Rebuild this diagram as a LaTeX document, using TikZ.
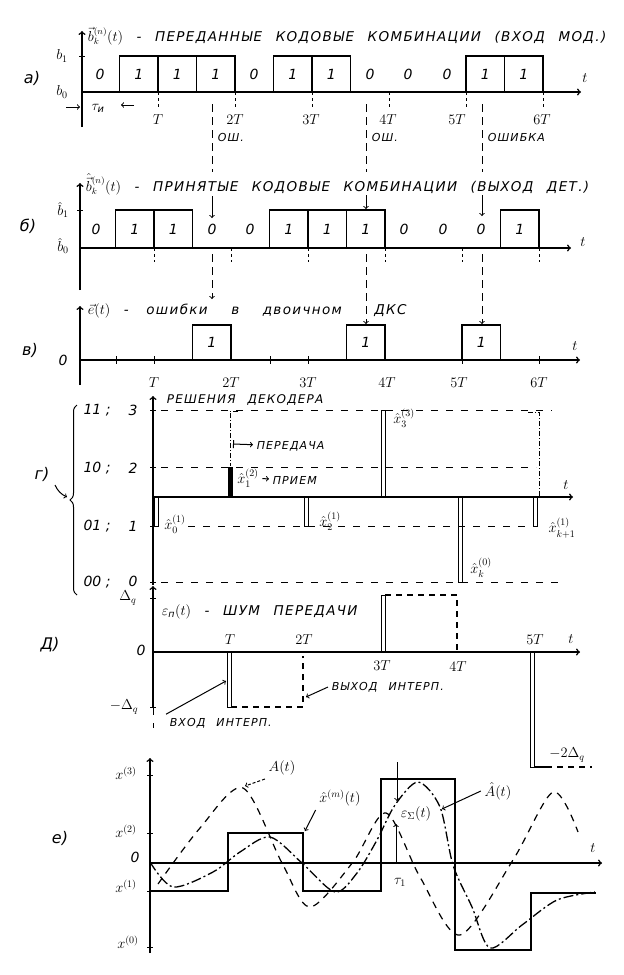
\documentclass[tikz,border=0pt]{standalone}
\usepackage{amsmath}
\usepackage{fontspec}
\setmainfont{DejaVu Sans}
\newfontfamily\spaced{DejaVu Sans}[LetterSpace=10,WordSpace=2.4]
\usetikzlibrary{decorations.pathreplacing}
\begin{document}
\begin{tikzpicture}[x=1pt,y=-1pt,line width=1pt,
    font=\itshape\fontsize{14}{16}\selectfont,
    ax/.style={->,line width=1.5pt},
    pulse/.style={line width=1.3pt},
    bar/.style={line width=1pt},
    tk/.style={dash pattern=on 3pt off 3pt,line width=0.9pt},
    err/.style={dash pattern=on 8pt off 5pt,line width=1pt},
    lvl/.style={dash pattern=on 7pt off 8pt,line width=0.9pt},
    hold/.style={dash pattern=on 6pt off 5pt,line width=1.3pt},
    dd/.style={dash pattern=on 5pt off 2pt on 1pt off 2pt,line width=0.8pt},
    sig/.style={dash pattern=on 7pt off 6pt,line width=1.2pt},
    est/.style={dash pattern=on 10pt off 3pt on 2pt off 3pt,line width=1.3pt},
    ttl/.style={anchor=west,font=\spaced\itshape\fontsize{13.5}{15}\selectfont},
    sm/.style={font=\spaced\itshape\fontsize{11}{13}\selectfont},
    pl/.style={font=\itshape\fontsize{16}{18}\selectfont}]
  \useasboundingbox (0,0) rectangle (624,975);

  \node[pl] (pa) at (32,78) {а)};
  \node[ttl] (titlea) at (84,36) {$\vec{b}_k^{(n)}(t)$ - ПЕРЕДАННЫЕ КОДОВЫЕ КОМБИНАЦИИ (ВХОД МОД.)};
  \draw[ax] (82,127) -- (82,31);
  \draw[ax] (82,92) -- (581,92);
  \node (ta) at (585,78) {$t$};
  \node (b1) at (62,56) {$b_1$};
  \node (b0) at (62,92) {$b_0$};
  \draw (79,56) -- (85,56);
  \node (a0) at (100,74) {0};
  \draw[pulse] (119.5,56) rectangle (158,92) node[midway] (a1) {1};
  \draw[pulse] (158,56) rectangle (196.5,92) node[midway] (a2) {1};
  \draw[pulse] (196.5,56) rectangle (235,92) node[midway] (a3) {1};
  \node (a4) at (254,74) {0};
  \draw[pulse] (273.5,56) rectangle (312,92) node[midway] (a5) {1};
  \draw[pulse] (312,56) rectangle (350.5,92) node[midway] (a6) {1};
  \node (a7) at (370,74) {0};
  \node (a8) at (408,74) {0};
  \node (a9) at (447,74) {0};
  \draw[pulse] (466,56) rectangle (504.5,92) node[midway] (a10) {1};
  \draw[pulse] (504.5,56) rectangle (543,92) node[midway] (a11) {1};
  \draw[tk] (158,92) -- (158,108);
  \draw[tk] (235,92) -- (235,108);
  \draw[tk] (312,92) -- (312,108);
  \draw[tk] (389,92) -- (389,108);
  \draw[tk] (466,92) -- (466,108);
  \draw[tk] (543,92) -- (543,108);
  \node (aT1) at (158,120) {$T$};
  \node (aT2) at (235,120) {$2T$};
  \node (aT3) at (311,120) {$3T$};
  \node (aT4) at (388,120) {$4T$};
  \node (aT5) at (457,120) {$5T$};
  \node (aT6) at (542,120) {$6T$};
  \node (tau) at (98,108) {$\tau_{\text{и}}$};
  \draw[->] (66,107) -- (80,107);
  \draw[->] (134,105) -- (121,105);
  \draw[err] (212,104) -- (212,172);
  \draw[err] (366,104) -- (366,172);
  \draw[err] (482,104) -- (482,172);
  \node[sm,anchor=west] (osh1) at (214,137) {ОШ.};
  \node[sm,anchor=west] (osh2) at (368,137) {ОШ.};
  \node[sm,anchor=west] (osh3) at (484,137) {ОШИБКА};

  \node[pl] (pb) at (28,226) {б)};
  \node[ttl] (titleb) at (82,184) {$\hat{\vec{b}}_k^{(n)}(t)$ - ПРИНЯТЫЕ КОДОВЫЕ КОМБИНАЦИИ (ВЫХОД ДЕТ.)};
  \draw[ax] (80,290) -- (80,183);
  \draw[ax] (80,248) -- (571,248);
  \node (tb) at (583,242) {$t$};
  \node (bh1) at (63,210) {$\hat{b}_1$};
  \node (bh0) at (63,246) {$\hat{b}_0$};
  \draw (77,210) -- (83,210);
  \node (r0) at (96,229) {0};
  \draw[pulse] (115.5,210) rectangle (154,248) node[midway] (r1) {1};
  \draw[pulse] (154,210) rectangle (192.5,248) node[midway] (r2) {1};
  \node (r3) at (212,229) {0};
  \node (r4) at (250,229) {0};
  \draw[pulse] (269.5,210) rectangle (308,248) node[midway] (r5) {1};
  \draw[pulse] (308,210) rectangle (346.5,248) node[midway] (r6) {1};
  \draw[pulse] (346.5,210) rectangle (385,248) node[midway] (r7) {1};
  \node (r8) at (404,229) {0};
  \node (r9) at (443,229) {0};
  \node (r10) at (481,229) {0};
  \draw[pulse] (500.5,210) rectangle (539,248) node[midway] (r11) {1};
  \draw[tk] (154,248) -- (154,262);
  \draw[tk] (231,248) -- (231,262);
  \draw[tk] (308,248) -- (308,262);
  \draw[tk] (385,248) -- (385,262);
  \draw[tk] (462,248) -- (462,262);
  \draw[tk] (539,248) -- (539,262);
  \draw[->] (212,196) -- (212,218);
  \draw[->] (366,195) -- (366,209);
  \draw[->] (482,195) -- (482,216);
  \draw[err,->] (212,254) -- (212,299);
  \draw[err,->] (366,254) -- (366,324);
  \draw[err,->] (482,254) -- (482,324);

  \node[pl] (pc) at (30,350) {в)};
  \node[ttl] (titlec) at (84,311) {$\vec{e}(t)$ -\hspace{4pt} ошибки\hspace{10pt} в\hspace{10pt} двоичном\hspace{19pt} ДКС};
  \draw[ax] (80,385) -- (80,306);
  \draw[ax] (80,360) -- (580,360);
  \node (tc) at (575,346) {$t$};
  \node (e0) at (63,360) {0};
  \draw[pulse] (192.5,325) rectangle (231,360) node[midway] (e3) {1};
  \draw[pulse] (346.5,325) rectangle (385,360) node[midway] (e7) {1};
  \draw[pulse] (462,325) rectangle (500.5,360) node[midway] (e10) {1};
  \draw (116,356) -- (116,364);
  \draw (154,356) -- (154,364);
  \draw (270,356) -- (270,364);
  \draw (308,356) -- (308,364);
  \draw (462,356) -- (462,364);
  \draw (539,356) -- (539,364);
  \node (cT1) at (154,383) {$T$};
  \node (cT2) at (231,383) {$2T$};
  \node (cT3) at (308,383) {$3T$};
  \node (cT4) at (387,383) {$4T$};
  \node (cT5) at (459,383) {$5T$};
  \node (cT6) at (539,383) {$6T$};

  \node[pl] (pd) at (42,474) {г)};
  \draw[->] (55,485) to[bend right=20] (67,497);
  \draw[decorate,decoration={brace,amplitude=7pt}] (77,595) -- (77,405);
  \node (c11) at (97,410) {11 ;};
  \node (c10) at (97,468) {10 ;};
  \node (c01) at (97,526) {01 ;};
  \node (c00) at (97,582) {00 ;};
  \node (v3) at (133,410) {3};
  \node (v2) at (133,468) {2};
  \node (v1) at (133,526) {1};
  \node (v0) at (133,581) {0};
  \node[anchor=west,font=\spaced\itshape\fontsize{12}{14}\selectfont] (titled) at (163,400) {РЕШЕНИЯ ДЕКОДЕРА};
  \draw[ax] (153,585) -- (153,396);
  \draw[ax] (153,497) -- (573,497);
  \node (td) at (566,485) {$t$};
  \draw (150,410) -- (156,410);
  \draw (150,467) -- (156,467);
  \draw (150,526) -- (156,526);
  \draw (150,582) -- (156,582);
  \draw[lvl] (161,410) -- (552,410);
  \draw[lvl] (161,467) -- (536,467);
  \draw[lvl] (188,526) -- (531,526);
  \draw[lvl] (161,582) -- (562,582);
  \draw[bar] (154,497) rectangle (158,526);
  \draw[bar,fill] (228,467) rectangle (232,497);
  \draw[bar] (304,497) rectangle (308,526);
  \draw[bar] (381,410) rectangle (385,497);
  \draw[bar] (458,497) rectangle (462,582);
  \draw[bar] (533,497) rectangle (537,526);
  \draw[dd] (238,411) -- (230,411) -- (230,466);
  \draw[dd] (528,412) -- (539,412) -- (539,496);
  \node[sm,anchor=west] (per) at (253,446) {ПЕРЕДАЧА};
  \draw[|->] (233,444) -- (per);
  \node (x1) at (248,478) {$\hat{x}_1^{(2)}$};
  \node[sm,anchor=west] (pri) at (269,480) {ПРИЕМ};
  \draw[->] (x1) -- (pri);
  \node (x0) at (175,524) {$\hat{x}_0^{(1)}$};
  \node (x2) at (330,521) {$\hat{x}_2^{(1)}$};
  \node (x3) at (404,418) {$\hat{x}_3^{(3)}$};
  \node (xk) at (481,568) {$\hat{x}_k^{(0)}$};
  \node (xk1) at (562,528) {$\hat{x}_{k+1}^{(1)}$};

  \node[pl] (pe) at (50,645) {Д)};
  \node[ttl] (titlee) at (158,612) {$\varepsilon_{\text{п}}(t)$ - ШУМ ПЕРЕДАЧИ};
  \draw[ax] (153,708) -- (153,586);
  \draw[lvl] (153,708) -- (153,728);
  \draw[ax] (153,652) -- (580,652);
  \node (te) at (571,639) {$t$};
  \node (dq) at (128,598) {$\Delta_q$};
  \node (z0) at (141,650) {0};
  \node (mdq) at (124,707) {$-\Delta_q$};
  \draw (150,598) -- (156,598);
  \draw (150,707) -- (156,707);
  \draw[bar] (227,652) rectangle (231,707);
  \draw[hold] (231,707) -- (303,707) -- (303,656);
  \draw[bar] (381,595) rectangle (385,652);
  \draw[hold] (385,595) -- (457,595) -- (457,650);
  \draw[bar] (530,652) rectangle (534,767);
  \draw[line width=1.3pt] (534,767) -- (546,767);
  \draw[hold] (546,767) -- (592,767);
  \node (eT1) at (230,640) {$T$};
  \node (eT2) at (304,640) {$2T$};
  \node (eT3) at (382,666) {$3T$};
  \node (eT4) at (458,667) {$4T$};
  \node (eT5) at (535,640) {$5T$};
  \node (m2dq) at (567,755) {$-2\Delta_q$};
  \node[sm,anchor=west] (vhod) at (166,723) {ВХОД ИНТЕРП.};
  \coordinate (vin) at (226,681);
  \draw[->] (vhod.north west) -- (vin);
  \node[sm,anchor=west] (vyh) at (328,687) {ВЫХОД ИНТЕРП.};
  \coordinate (vout) at (306,697);
  \draw[->] (vyh.west) -- (vout);

  \node[pl] (pf) at (60,838) {е)};
  \draw[ax] (150,953) -- (150,758);
  \draw[ax] (150,863) -- (602,863);
  \node (tf) at (593,848) {$t$};
  \draw (147,775) -- (153,775);
  \draw (147,833) -- (153,833);
  \draw (147,891) -- (153,891);
  \draw (147,947) -- (153,947);
  \node (xs3) at (126,773) {$x^{(3)}$};
  \node (xs2) at (126,831) {$x^{(2)}$};
  \node (xz) at (135,857) {0};
  \node (xs1) at (126,886) {$x^{(1)}$};
  \node (xs0) at (128,942) {$x^{(0)}$};
  \draw[pulse] (150,891) -- (228,891) -- (228,833) -- (303,833) -- (303,891) -- (381,891) -- (381,779) -- (455,779) -- (455,950) -- (531,950) -- (531,893) -- (596,893);
  \draw[sig] plot[smooth] coordinates {(158,884) (200,828) (243,788) (282,863) (310,907) (353,862) (386,813) (420,877) (460,935) (513,860) (553,792) (578,832)};
  \draw[est] plot[smooth] coordinates {(150,862) (173,887) (213,872) (240,852) (270,837) (302,863) (335,892) (357,873) (377,840) (395,805) (418,782) (440,807) (453,865) (472,907) (490,948) (522,925) (557,900) (595,892)};
  \node (At) at (282,768) {$A(t)$};
  \coordinate (apk) at (245,786);
  \draw[->,densely dashed] (At.south west) -- (apk);
  \node (xm) at (340,798) {$\hat{x}^{(m)}(t)$};
  \coordinate (xmc) at (305,831);
  \draw[->] (xm.south west) -- (xmc);
  \node (Ah) at (498,791) {$\hat{A}(t)$};
  \coordinate (ahc) at (442,809);
  \draw[->] (Ah.west) -- (ahc);
  \node (eps) at (416,814) {$\varepsilon_{\Sigma}(t)$};
  \node (tau1) at (400,882) {$\tau_1$};
  \coordinate (et) at (397,762);
  \coordinate (eb) at (397,801);
  \draw[->] (et) -- (eb);
  \coordinate (ub) at (396,863);
  \coordinate (ut) at (396,824);
  \draw[->] (ub) -- (ut);
\end{tikzpicture}
\end{document}
